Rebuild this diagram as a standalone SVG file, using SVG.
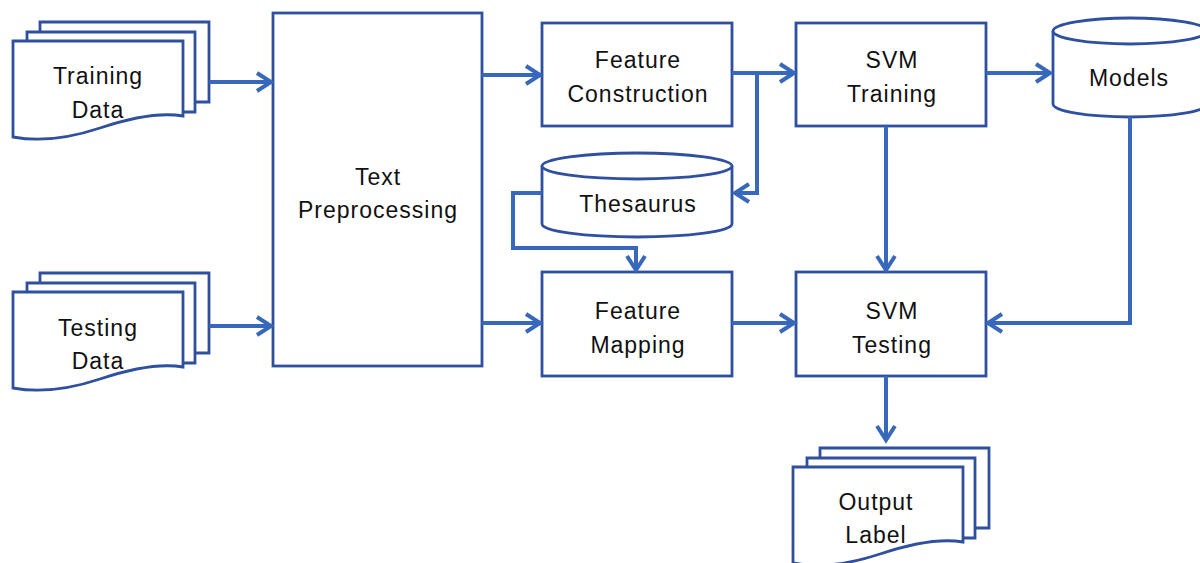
<svg xmlns="http://www.w3.org/2000/svg" width="1200" height="563" viewBox="0 0 1200 563">
<style>
.shape{fill:#fff;stroke:#2F4F9F;stroke-width:2.8}
.lbl{font-family:"Liberation Sans",Arial,sans-serif;font-size:23px;fill:#111;text-anchor:middle;letter-spacing:1px}
.conn{fill:none;stroke:#3868BC;stroke-width:4;stroke-linejoin:miter}
</style>
<defs>
<marker id="arr" markerUnits="userSpaceOnUse" markerWidth="24" markerHeight="24" refX="15" refY="10" orient="auto" overflow="visible">
<path d="M1,1 L15,10 L1,19" fill="none" stroke="#3868BC" stroke-width="4"/>
</marker>
<g id="multidoc">
<path class="shape" d="M40,22 H209 V102 H40 Z"/>
<path class="shape" d="M27,32 H195 V112 H27 Z"/>
<path class="shape" d="M13,41 H183 V116 C160,112 130,118 100,128 C70,138 40,142 13,137 Z"/>
</g>
</defs>
<rect width="1200" height="563" fill="#fff"/>
<g id="training-data">
<use href="#multidoc"/>
<text class="lbl" x="98" y="84">Training</text>
<text class="lbl" x="98" y="118">Data</text>
</g>
<g id="testing-data">
<use href="#multidoc" transform="translate(0,251)"/>
<text class="lbl" x="98" y="336">Testing</text>
<text class="lbl" x="98" y="369">Data</text>
</g>
<g id="text-preprocessing">
<rect class="shape" x="273" y="13" width="209" height="353"/>
<text class="lbl" x="378" y="185">Text</text>
<text class="lbl" x="378" y="218">Preprocessing</text>
</g>
<g id="feature-construction">
<rect class="shape" x="542" y="23" width="190" height="103"/>
<text class="lbl" x="638" y="68">Feature</text>
<text class="lbl" x="638" y="102">Construction</text>
</g>
<g id="thesaurus">
<path class="shape" d="M542,166 V224 A95,13 0 0 0 732,224 V166 A95,13 0 0 0 542,166 Z"/>
<path class="shape" d="M542,166 A95,13 0 0 0 732,166" fill="none"/>
<text class="lbl" x="638" y="212">Thesaurus</text>
</g>
<g id="feature-mapping">
<rect class="shape" x="542" y="272" width="190" height="104"/>
<text class="lbl" x="638" y="319">Feature</text>
<text class="lbl" x="638" y="353">Mapping</text>
</g>
<g id="svm-training">
<rect class="shape" x="796" y="23" width="190" height="103"/>
<text class="lbl" x="892" y="68">SVM</text>
<text class="lbl" x="892" y="102">Training</text>
</g>
<g id="svm-testing">
<rect class="shape" x="796" y="272" width="190" height="104"/>
<text class="lbl" x="892" y="319">SVM</text>
<text class="lbl" x="892" y="353">Testing</text>
</g>
<g id="models">
<path class="shape" d="M1053,31 V104 A77,13 0 0 0 1207,104 V31 A77,13 0 0 0 1053,31 Z"/>
<path class="shape" d="M1053,31 A77,13 0 0 0 1207,31" fill="none"/>
<text class="lbl" x="1129" y="86">Models</text>
</g>
<g id="output-label">
<use href="#multidoc" transform="translate(780,426)"/>
<text class="lbl" x="876" y="510">Output</text>
<text class="lbl" x="876" y="543">Label</text>
</g>
<g id="connectors">
<path class="conn" d="M209,82 H271" marker-end="url(#arr)"/>
<path class="conn" d="M209,326 H271" marker-end="url(#arr)"/>
<path class="conn" d="M482,75 H540" marker-end="url(#arr)"/>
<path class="conn" d="M732,73 H794" marker-end="url(#arr)"/>
<path class="conn" d="M757,73 V193 H735" marker-end="url(#arr)"/>
<path class="conn" d="M542,193 H513 V248 H636 V270" marker-end="url(#arr)"/>
<path class="conn" d="M482,323 H540" marker-end="url(#arr)"/>
<path class="conn" d="M732,323 H794" marker-end="url(#arr)"/>
<path class="conn" d="M986,73 H1050" marker-end="url(#arr)"/>
<path class="conn" d="M886,126 V270" marker-end="url(#arr)"/>
<path class="conn" d="M1130,117 V323 H988" marker-end="url(#arr)"/>
<path class="conn" d="M886,376 V440" marker-end="url(#arr)"/>
</g>
</svg>
